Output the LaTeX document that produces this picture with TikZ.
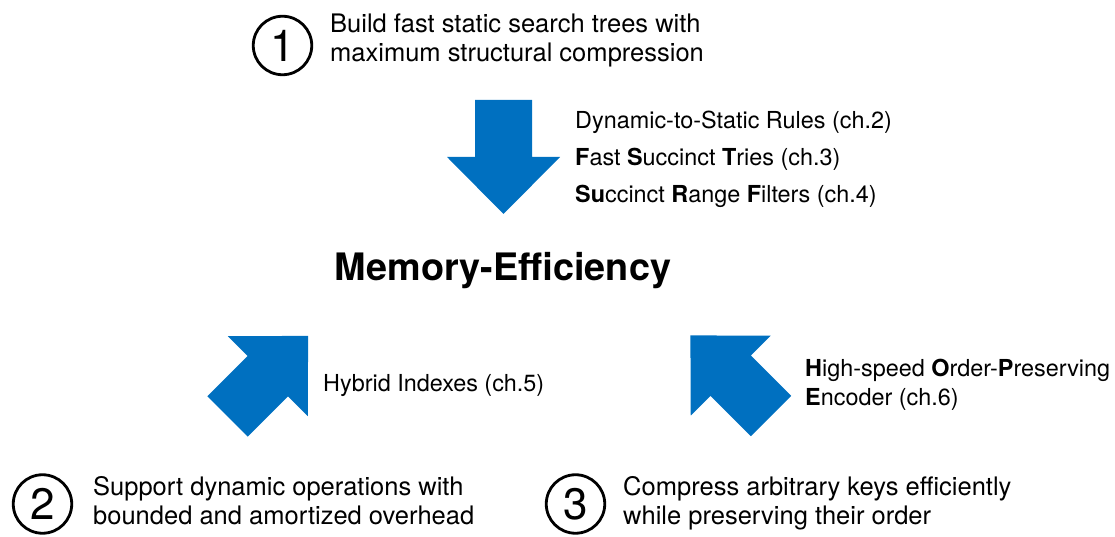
\documentclass[tikz,border=0pt]{standalone}
\usepackage{fontspec}
\setmainfont{TeX Gyre Heros}
\definecolor{arrowblue}{RGB}{0,112,192}
\tikzset{
  bigarrow/.style={fill=arrowblue, draw=none},
  numcirc/.style={circle, draw=black, line width=2.8pt, minimum size=58.5pt, inner sep=0pt,
    font=\fontsize{44}{44}\selectfont},
  headtext/.style={anchor=base west, inner sep=0pt, font=\fontsize{25.5}{29}\selectfont},
  sidetext/.style={anchor=base west, inner sep=0pt, font=\fontsize{23.4}{27}\selectfont},
  titletext/.style={anchor=base, inner sep=0pt, font=\fontsize{37.8}{40}\selectfont\bfseries},
}
\newcommand{\arrowshape}{(0,-28.5) -- (57,-28.5) -- (57,-56.5) -- (114,0) -- (57,56.5) -- (57,28.5) -- (0,28.5) -- cycle}
\begin{document}
\begin{tikzpicture}[x=1pt,y=1pt]
\useasboundingbox (0,0) rectangle (1115,537);
% arrows
\fill[bigarrow, shift={(503.5,437)}, rotate=-90] \arrowshape;
\fill[bigarrow, shift={(227.5,120.5)}, rotate=45] \arrowshape;
\fill[bigarrow, shift={(771,121)}, rotate=135] \arrowshape;
% numbered circles
\node[numcirc] (c1) at (282.5,491.5) {1};
\node[numcirc] (c2) at (42.5,33) {2};
\node[numcirc] (c3) at (575.5,33) {3};
% goal texts
\node[headtext] (g1a) at (330,504.5) {Build fast static search trees with};
\node[headtext] (g1b) at (330,475.5) {maximum structural compression};
\node[headtext] (g2a) at (93,41) {Support dynamic operations with};
\node[headtext] (g2b) at (93,12.5) {bounded and amortized overhead};
\node[headtext] (g3a) at (623,41) {Compress arbitrary keys efficiently};
\node[headtext] (g3b) at (623,12.5) {while preserving their order};
% title
\node[titletext] (title) at (503,256) {Memory-Efficiency};
% side labels
\node[sidetext] (s1) at (575,408.5) {Dynamic-to-Static Rules (ch.2)};
\node[sidetext] (s2) at (575,371) {\textbf{F}ast \textbf{S}uccinct \textbf{T}ries (ch.3)};
\node[sidetext] (s3) at (575,334.5) {\textbf{Su}ccinct \textbf{R}ange \textbf{F}ilters (ch.4)};
\node[sidetext] (s4) at (323,145.5) {Hybrid Indexes (ch.5)};
\node[sidetext] (s5a) at (805,160.5) {\textbf{H}igh-speed \textbf{O}rder-\textbf{P}reserving};
\node[sidetext] (s5b) at (805,131.5) {\textbf{E}ncoder (ch.6)};
\end{tikzpicture}
\end{document}
